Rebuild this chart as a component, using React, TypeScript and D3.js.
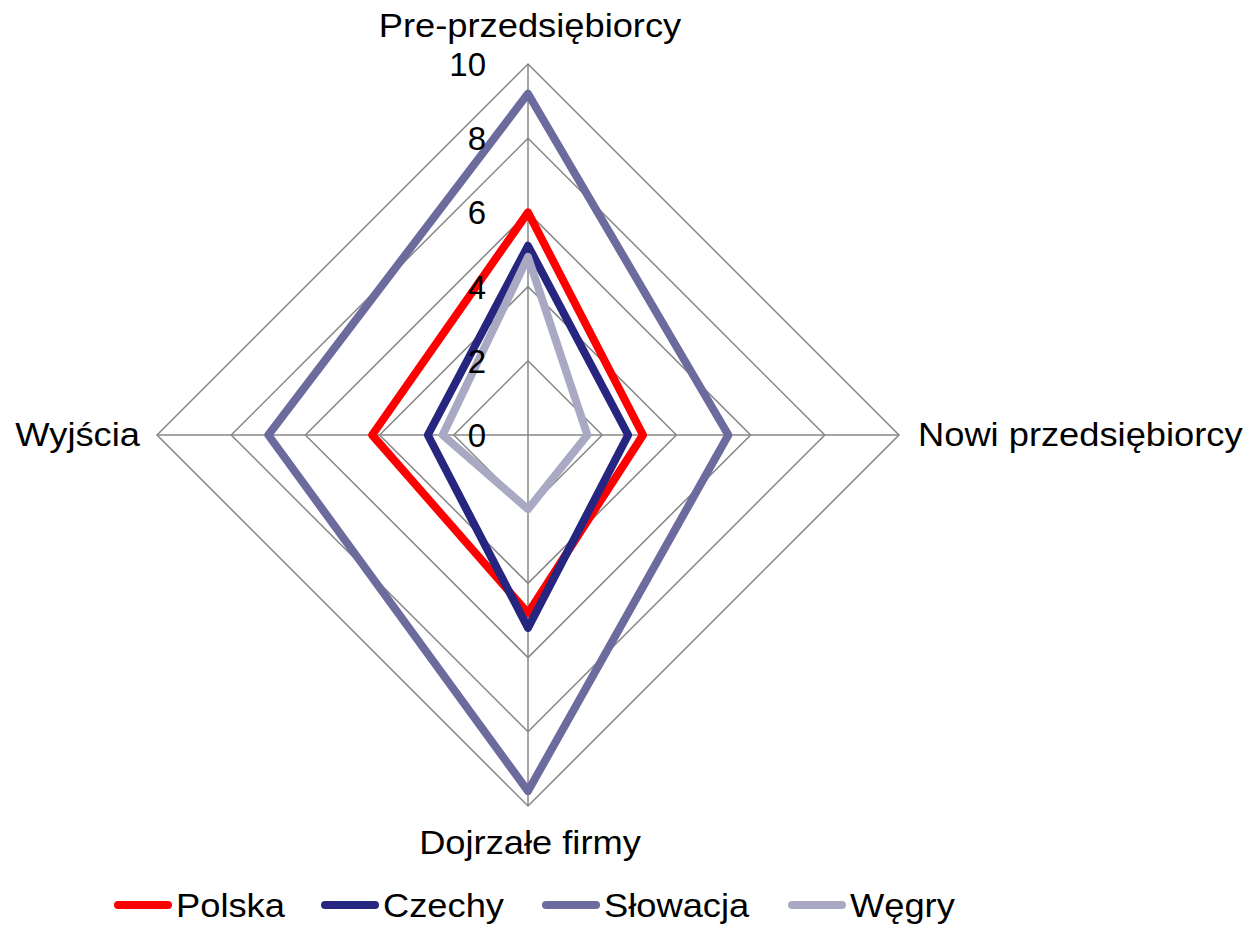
import { useEffect, useRef } from 'react';
import * as d3 from 'd3';

const axes = ['Pre-przedsiębiorcy', 'Nowi przedsiębiorcy', 'Dojrzałe firmy', 'Wyjścia'];
const seriesNames = ['Polska', 'Czechy', 'Słowacja', 'Węgry'];
const polska = [6.0, 3.1, 4.8, 4.2];
const czechy = [5.1, 2.7, 5.2, 2.7];
const slowacja = [9.2, 5.4, 9.6, 7.0];
const wegry = [4.8, 1.6, 2.0, 2.3];
const ticks = [0, 2, 4, 6, 8, 10];
const colors = ['#ff0000', '#262680', '#6b6b9e', '#a9a9c4'];

export default function App() {
  const svgRef = useRef<SVGSVGElement>(null);
  const width = 1255;
  const height = 925;

  useEffect(() => {
    if (!svgRef.current) return;
    const svg = d3.select(svgRef.current);
    svg.selectAll('*').remove();

    const cx = 528;
    const cy = 435;
    const r = d3.scaleLinear().domain([0, 10]).range([0, 371]);
    const font = 'Arial, "Liberation Sans", sans-serif';
    const stretch = 1.1;

    // angle per axis, clockwise from top
    const angle = (i: number) => (i * 2 * Math.PI) / axes.length;
    const pt = (i: number, v: number): [number, number] => [
      cx + r(v) * Math.sin(angle(i)),
      cy - r(v) * Math.cos(angle(i)),
    ];

    const g = svg.append('g');

    // Grid rings
    ticks.slice(1).forEach(t => {
      g.append('path')
        .attr('d', d3.line()(axes.map((_, i) => pt(i, t))) + 'Z')
        .attr('fill', 'none')
        .attr('stroke', '#878787')
        .attr('stroke-width', 1.5);
    });

    // Spokes
    axes.forEach((_, i) => {
      const [x, y] = pt(i, 10);
      g.append('line')
        .attr('x1', cx).attr('y1', cy)
        .attr('x2', x).attr('y2', y)
        .attr('stroke', '#878787')
        .attr('stroke-width', 1.5);
    });

    // Series
    const allSeries = [polska, czechy, slowacja, wegry];
    const line = d3.line<number>()
      .x((d, i) => pt(i, d)[0])
      .y((d, i) => pt(i, d)[1])
      .curve(d3.curveLinearClosed);

    allSeries.forEach((vals, k) => {
      g.append('path')
        .datum(vals)
        .attr('d', line)
        .attr('fill', 'none')
        .attr('stroke', colors[k])
        .attr('stroke-width', 8)
        .attr('stroke-linejoin', 'round');
    });

    // Tick labels
    ticks.forEach(t => {
      g.append('text')
        .attr('x', cx - 42)
        .attr('y', cy - r(t) + 12)
        .attr('text-anchor', 'end')
        .style('font-family', font)
        .style('font-size', '33px')
        .text(t);
    });

    // Axis labels
    const labelPos = [
      { x: 530, y: 37, anchor: 'middle' },
      { x: 918, y: 446, anchor: 'start' },
      { x: 530, y: 854, anchor: 'middle' },
      { x: 140, y: 446, anchor: 'end' },
    ];
    axes.forEach((name, i) => {
      const p = labelPos[i];
      g.append('text')
        .attr('transform', `translate(${p.x},${p.y}) scale(${stretch},1)`)
        .attr('text-anchor', p.anchor)
        .style('font-family', font)
        .style('font-size', '33px')
        .text(name);
    });

    // Legend
    const legendX = [114, 321, 542, 788];
    const legendY = 905;
    seriesNames.forEach((name, k) => {
      const item = g.append('g').attr('transform', `translate(${legendX[k]},${legendY})`);
      item.append('line')
        .attr('x1', 4).attr('x2', 54)
        .attr('y1', 0).attr('y2', 0)
        .attr('stroke', colors[k])
        .attr('stroke-width', 8)
        .attr('stroke-linecap', 'round');
      item.append('text')
        .attr('transform', `translate(62,12) scale(${stretch},1)`)
        .style('font-family', font)
        .style('font-size', '33px')
        .text(name);
    });
  }, []);

  return (
    <svg
      ref={svgRef}
      width={width}
      height={height}
      style={{ position: 'absolute', left: 0, top: 0, background: '#fff' }}
    />
  );
}
